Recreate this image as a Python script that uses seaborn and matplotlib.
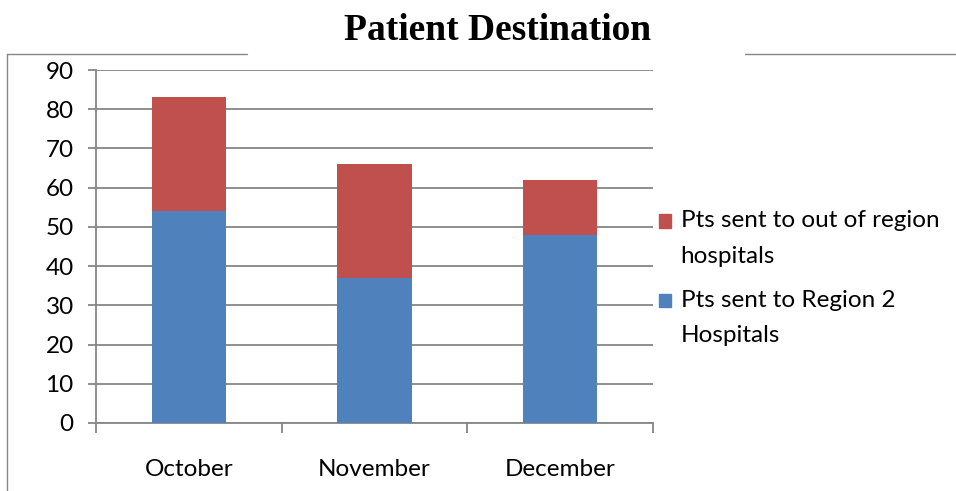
import seaborn as sns
import matplotlib.pyplot as plt
import pandas as pd
from matplotlib.lines import Line2D
from matplotlib.patches import Patch

months = ['October', 'November', 'December']
region2 = [54, 37, 48]
out_of_region = [29, 29, 14]
series_labels = ['Pts sent to out of region\nhospitals', 'Pts sent to Region 2\nHospitals']

blue = '#4F81BD'
red = '#C0504D'
grid_gray = '#868686'

sns.set_style('white')
plt.rcParams['font.family'] = ['Lato', 'DejaVu Sans']
plt.rcParams['text.color'] = 'black'
plt.rcParams['xtick.color'] = 'black'
plt.rcParams['ytick.color'] = 'black'

df = pd.DataFrame({'month': months, 'region2': region2, 'out': out_of_region})
df['total'] = df['region2'] + df['out']

fig = plt.figure(figsize=(9.56, 4.91), dpi=100)
ax = fig.add_axes([0.1004, 0.1385, 0.5826, 0.7189])

# stacked: total drawn first (red), region 2 on top of it (blue)
sns.barplot(data=df, x='month', y='total', color=red, width=0.4, saturation=1,
            linewidth=0, ax=ax, zorder=3)
sns.barplot(data=df, x='month', y='region2', color=blue, width=0.4, saturation=1,
            linewidth=0, ax=ax, zorder=4)

ax.set_ylim(0, 90)
ax.set_xlim(-0.5, 2.5)
ax.set_yticks(range(0, 91, 10))
ax.yaxis.grid(True, color=grid_gray, linewidth=1.3)
ax.set_axisbelow(True)
ax.set_xlabel('')
ax.set_ylabel('')

for side in ['top', 'right']:
    ax.spines[side].set_visible(False)
ax.spines['left'].set_color(grid_gray)
ax.spines['bottom'].set_color(grid_gray)
ax.spines['left'].set_linewidth(1.3)
ax.spines['bottom'].set_linewidth(1.3)

ax.tick_params(axis='y', length=6, color=grid_gray, width=1.3, labelsize=17.5,
               pad=10, left=True, labelcolor='black')
ax.tick_params(axis='x', which='major', length=0, labelsize=17.5, pad=26, labelcolor='black')
ax.set_xticks([-0.5, 0.5, 1.5, 2.5], minor=True)
ax.tick_params(axis='x', which='minor', length=7, color=grid_gray, width=1.3, bottom=True)

handles = [Patch(color=red), Patch(color=blue)]
leg = ax.legend(handles, series_labels, loc='center left', bbox_to_anchor=(0.993, 0.41),
                frameon=False, fontsize=17.5, handlelength=0.5, handleheight=0.5,
                handletextpad=0.4, labelspacing=0.95, borderaxespad=0)
for t in leg.get_texts():
    t.set_linespacing(1.85)
# line the squares up with the first text line, like the original
for h in leg.legend_handles:
    h.set_y(h.get_y() + 12.5)

fig.text(0.52, 0.937, 'Patient Destination', ha='center', va='center', color='black',
         fontsize=27, fontweight='bold', family=['Liberation Serif', 'DejaVu Serif'])

# partial chart border
fig.add_artist(Line2D([0.0073, 0.258], [0.89, 0.89], color=grid_gray, lw=1))
fig.add_artist(Line2D([0.779, 1.0], [0.89, 0.89], color=grid_gray, lw=1))
fig.add_artist(Line2D([0.0073, 0.0073], [0.0, 0.89], color=grid_gray, lw=1))

fig.savefig('out.png', dpi=100)
